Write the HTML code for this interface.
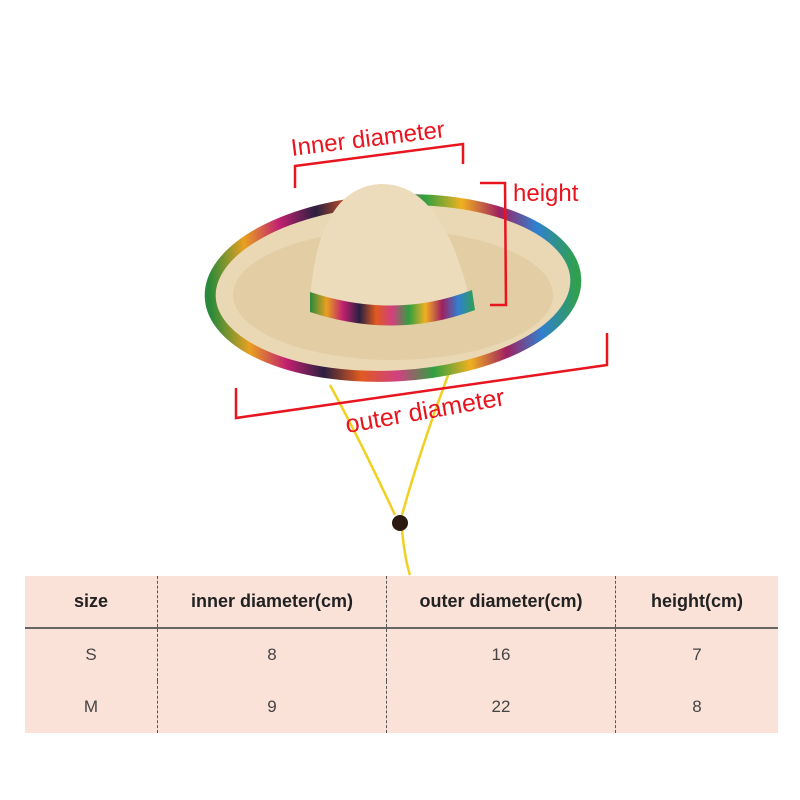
<!DOCTYPE html>
<html><head><style>
body{margin:0;background:#fff;width:800px;height:800px;overflow:hidden;position:relative;font-family:"Liberation Sans","DejaVu Sans",sans-serif}
svg{position:absolute;left:0;top:0}
table{position:absolute;left:25px;top:576px;width:753px;border-collapse:collapse;background:#fbe2d8;color:#444}
td{text-align:center;font-size:17px;padding:0}
tr.h td{height:51px;font-weight:bold;color:#222;font-size:18px;border-bottom:2px solid #666}
tr.r td{height:52px}
td+td{border-left:1px dashed #555}
</style></head><body>
<svg width="800" height="800" viewBox="0 0 800 800">
<defs>
<linearGradient id="rb" x1="0" x2="1">
<stop offset="0" stop-color="#2a8a3a"/><stop offset=".1" stop-color="#e8a020"/><stop offset=".2" stop-color="#c02070"/><stop offset=".3" stop-color="#2a2040"/><stop offset=".4" stop-color="#e05a20"/><stop offset=".5" stop-color="#d04080"/><stop offset=".6" stop-color="#30a040"/><stop offset=".7" stop-color="#f0b020"/><stop offset=".8" stop-color="#a02060"/><stop offset=".9" stop-color="#3080d0"/><stop offset="1" stop-color="#30a050"/>
</linearGradient>
</defs>
<path d="M330 385 Q360 440 395 515 M450 370 Q420 450 402 515 M402 530 Q405 560 410 575" stroke="#f0d020" stroke-width="2.5" fill="none"/>
<circle cx="400" cy="523" r="8" fill="#2a1a10"/>
<ellipse cx="393" cy="288" rx="183" ry="88" fill="#ead8b5" stroke="url(#rb)" stroke-width="11" transform="rotate(-3 393 288)"/>
<ellipse cx="393" cy="295" rx="160" ry="65" fill="#e2cda5"/>
<path d="M310 300 Q318 188 380 184 Q442 182 470 300 Q395 330 310 300Z" fill="#ecdcbc"/>
<path d="M310 292 Q395 320 472 290 L475 310 Q395 340 310 312Z" fill="url(#rb)"/>
<g stroke="#e8141e" stroke-width="2.5" fill="none">
<path d="M295 188 L295 166 L463 144 L463 164"/>
<path d="M480 183 L505 183 L506 305 L490 305"/>
<path d="M236 388 L236 418 L607 365 L607 333"/>
</g>
<g fill="#e8141e">
<text x="292" y="156" font-size="24" transform="rotate(-7 292 156)">Inner diameter</text>
<text x="513" y="201" font-size="24">height</text>
<text x="347" y="433" font-size="25" transform="rotate(-10 347 433)">outer diameter</text>
</g>
</svg>
<table>
<tr class="h"><td style="width:132px">size</td><td style="width:228px">inner diameter(cm)</td><td style="width:228px">outer diameter(cm)</td><td>height(cm)</td></tr>
<tr class="r"><td>S</td><td>8</td><td>16</td><td>7</td></tr>
<tr class="r"><td>M</td><td>9</td><td>22</td><td>8</td></tr>
</table>
</body></html>
